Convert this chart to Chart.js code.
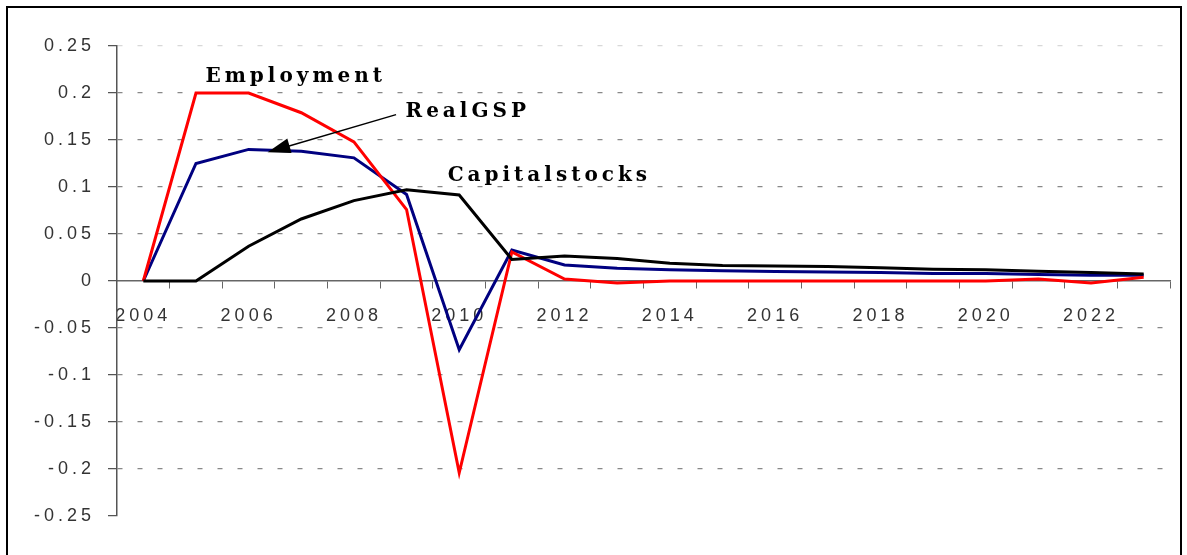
<!DOCTYPE html>
<html>
<head>
<meta charset="utf-8">
<script src="https://cdn.jsdelivr.net/npm/chart.js@4"></script>
<style>
  body { margin: 0; background: #fff; overflow: hidden; }
  #frame { position: absolute; left: 6px; top: 6px; width: 1172px; height: 600px; border: 2px solid #000; }
  #chart { position: absolute; left: 0; top: 0; }
</style>
</head>
<body>
<div id="frame"></div>
<canvas id="chart" width="1187" height="555"></canvas>
<script>
    // data
    const years = ['2004', '2005', '2006', '2007', '2008', '2009', '2010', '2011', '2012', '2013',
                   '2014', '2015', '2016', '2017', '2018', '2019', '2020', '2021', '2022', '2023'];
    const employment = [0, 0.2, 0.2, 0.179, 0.148, 0.076, -0.204, 0.031, 0.002, -0.002,
                        0, 0, 0, 0, 0, 0, 0, 0.002, -0.002, 0.004];
    const realGSP = [0, 0.125, 0.14, 0.138, 0.131, 0.092, -0.073, 0.033, 0.017, 0.0135,
                     0.012, 0.011, 0.01, 0.0095, 0.009, 0.008, 0.008, 0.007, 0.006, 0.006];
    const capitalStocks = [0, 0, 0.037, 0.066, 0.0855, 0.097, 0.0915, 0.023, 0.0266, 0.024,
                           0.019, 0.0165, 0.016, 0.0155, 0.014, 0.0125, 0.012, 0.0105, 0.009, 0.0075];
    const seriesNames = ['Employment', 'RealGSP', 'Capitalstocks'];

    // where the in-chart labels sit (category index, value)
    const labelSpots = [
      { x: 1.18, y: 0.212 },
      { x: 4.98, y: 0.1745 },
      { x: 5.78, y: 0.1064 }
    ];
    const arrowFrom = { x: 4.80, y: 0.177 };
    const arrowTo = { x: 2.36, y: 0.137 };

    const spacing = {
      id: 'spacing',
      beforeUpdate(chart) { chart.ctx.letterSpacing = '4px'; },
      beforeDraw(chart) { chart.ctx.letterSpacing = '4px'; }
    };

    const seriesLabels = {
      id: 'seriesLabels',
      afterDatasetsDraw(chart) {
        const { ctx, scales: { x, y } } = chart;
        ctx.save();
        ctx.fillStyle = '#000';
        ctx.font = 'bold 20px "DejaVu Serif"';
        ctx.letterSpacing = '4px';
        ctx.textAlign = 'left';
        ctx.textBaseline = 'alphabetic';
        seriesNames.forEach((name, i) => {
          ctx.fillText(name, x.getPixelForValue(labelSpots[i].x), y.getPixelForValue(labelSpots[i].y));
        });

        // arrow pointing at the RealGSP line
        const x0 = x.getPixelForValue(arrowFrom.x), y0 = y.getPixelForValue(arrowFrom.y);
        const x1 = x.getPixelForValue(arrowTo.x), y1 = y.getPixelForValue(arrowTo.y);
        const ang = Math.atan2(y1 - y0, x1 - x0);
        ctx.strokeStyle = '#000';
        ctx.lineWidth = 1.5;
        ctx.beginPath();
        ctx.moveTo(x0, y0);
        ctx.lineTo(x1 - 18 * Math.cos(ang), y1 - 18 * Math.sin(ang));
        ctx.stroke();
        ctx.beginPath();
        ctx.moveTo(x1, y1);
        ctx.lineTo(x1 - 24 * Math.cos(ang - 0.32), y1 - 24 * Math.sin(ang - 0.32));
        ctx.lineTo(x1 - 24 * Math.cos(ang + 0.32), y1 - 24 * Math.sin(ang + 0.32));
        ctx.closePath();
        ctx.fill();
        ctx.restore();
      }
    };

    const gridColor = (c) => {
      const v = c.tick.value;
      if (Math.abs(v) < 1e-9 || v < -0.24) return 'rgba(0,0,0,0)';
      if (v > 0.24) return '#d8d8d8';
      return '#888';
    };

    const ctx = document.getElementById('chart').getContext('2d');
    new Chart(ctx, {
      type: 'line',
      data: {
        labels: years,
        datasets: [{
          label: seriesNames[2],
          data: capitalStocks,
          borderColor: '#000000',
          order: 0
        }, {
          label: seriesNames[0],
          data: employment,
          borderColor: '#ff0000',
          order: 1
        }, {
          label: seriesNames[1],
          data: realGSP,
          borderColor: '#000080',
          order: 2
        }]
      },
      options: {
        responsive: false,
        devicePixelRatio: 1,
        animation: false,
        events: [],
        layout: { padding: { left: 0, top: 46, right: 17, bottom: 39 } },
        elements: {
          line: { borderWidth: 3, tension: 0, fill: false },
          point: { radius: 0 }
        },
        plugins: { legend: { display: false }, tooltip: { enabled: false } },
        scales: {
          x: {
            position: { y: 0 },
            offset: true,
            border: { display: true, color: '#666', width: 1.5 },
            grid: { offset: true, drawOnChartArea: false, drawTicks: true, tickLength: 7, color: '#666' },
            ticks: {
              autoSkip: false,
              maxRotation: 0,
              padding: 17,
              color: '#333',
              font: { family: '"Liberation Sans"', size: 18 },
              callback: (v, i) => (i % 2 === 0 ? years[i] : '')
            }
          },
          y: {
            min: -0.25,
            max: 0.25,
            afterFit: (s) => { s.width = 117; },
            border: { display: true, color: '#555', width: 1.5, dash: [5, 15] },
            grid: {
              color: gridColor,
              tickColor: '#555',
              tickLength: 9,
              tickBorderDash: [1, 0],
              lineWidth: 1.2
            },
            ticks: {
              stepSize: 0.05,
              padding: 13,
              color: '#333',
              font: { family: '"Liberation Sans"', size: 18 },
              callback: (v) => String(Number(v.toFixed(2)))
            }
          }
        }
      },
      plugins: [spacing, seriesLabels]
    });
</script>
</body>
</html>
